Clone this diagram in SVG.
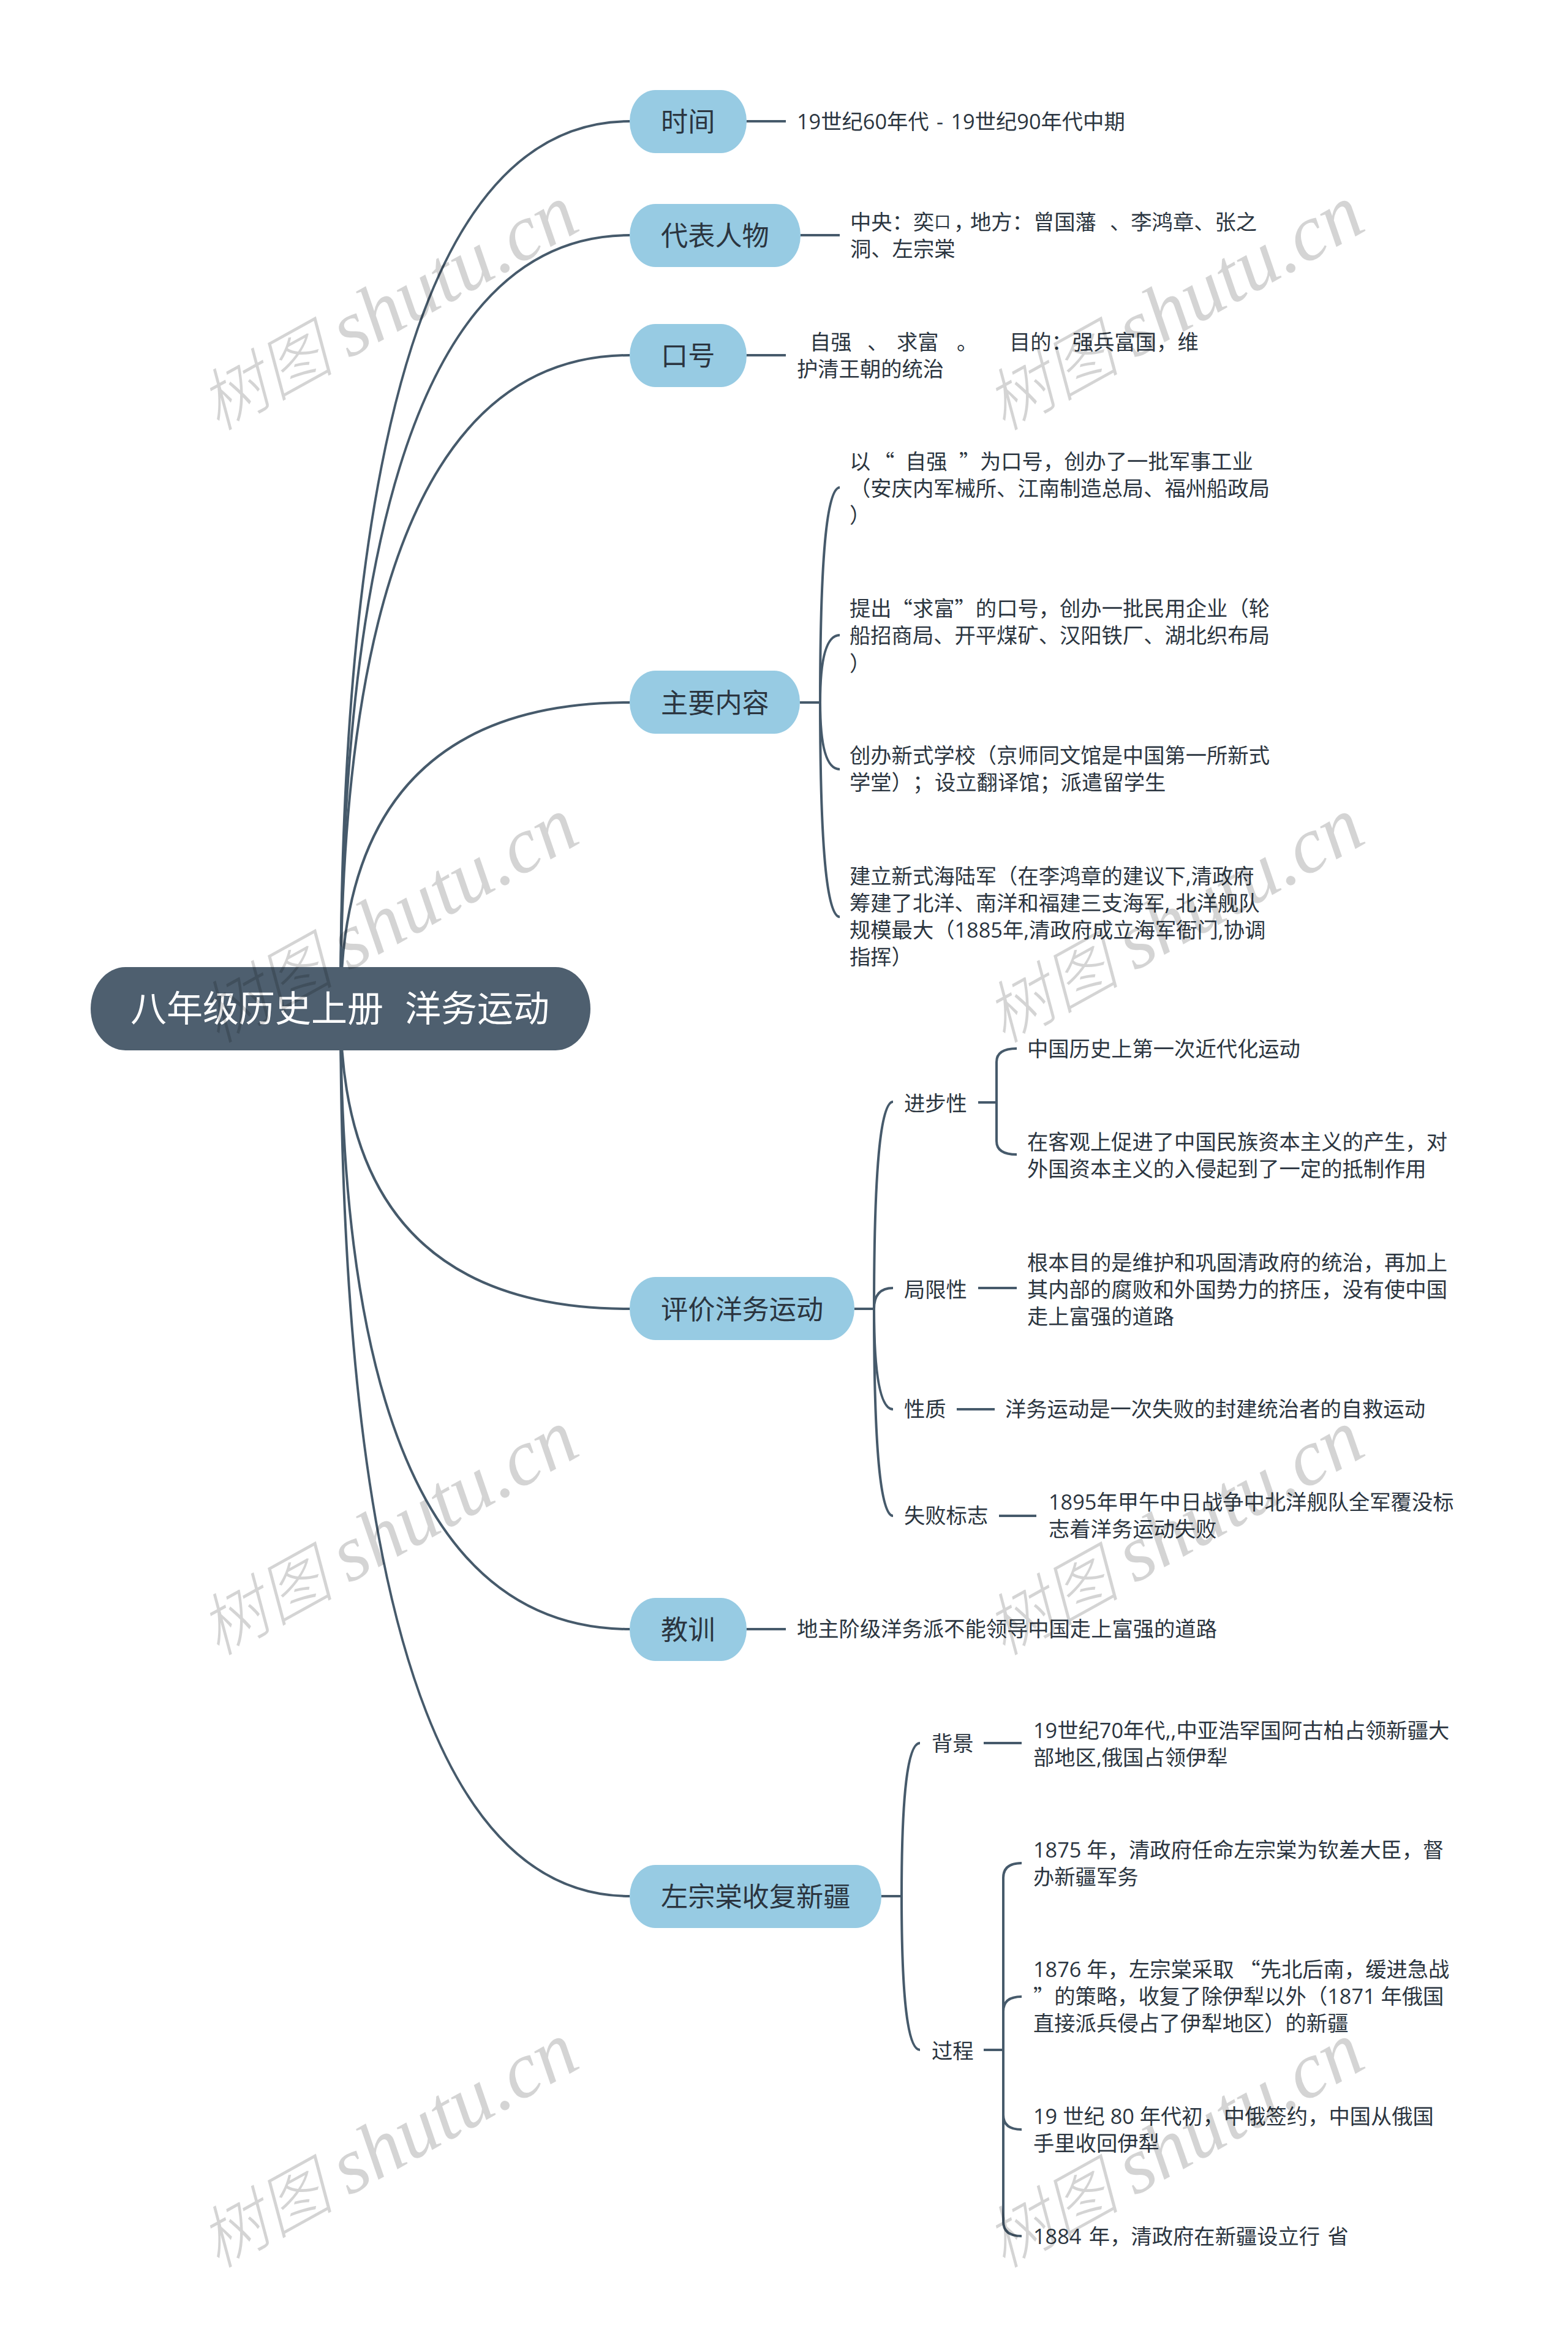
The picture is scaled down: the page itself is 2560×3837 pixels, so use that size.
<svg xmlns="http://www.w3.org/2000/svg" width="2560" height="3837" viewBox="0 0 2560 3837">
<style>
text{font-family:"Open Sans","Noto Sans CJK SC",sans-serif;dominant-baseline:central;white-space:pre}
.q{font-family:"Noto Sans CJK SC",sans-serif}
.t{font-size:34.3px;fill:#2b3540}
.b{font-size:44.2px;fill:#2b3540}
.r{font-size:59px;fill:#fff}
.ws{word-spacing:3.5px}
.nb{fill:#97cbe3}
.nr{fill:#4e5f6f}
.c{fill:none;stroke:#465a6b;stroke-width:4;stroke-linecap:butt}
.w{font-family:"Liberation Serif","Noto Sans CJK SC",serif;font-style:italic;fill:#000;fill-opacity:.17;dominant-baseline:auto}
.wc{font-family:"Noto Sans CJK SC",serif;font-size:110px;font-weight:300}
.wl{font-size:130px}
</style>
<rect width="2560" height="3837" fill="#fff"/>
<g id="connectors" class="c">
<path d="M556 1647Q556 198 1028 198"/>
<path d="M556 1647Q556 384 1028 384"/>
<path d="M556 1647Q556 580 1028 580"/>
<path d="M556 1647Q556 1147 1028 1147"/>
<path d="M556 1647Q556 2137 1028 2137"/>
<path d="M556 1647Q556 2660 1028 2660"/>
<path d="M556 1647Q556 3096 1028 3096"/>
<path d="M1219 198H1283"/>
<path d="M1307 384H1371"/>
<path d="M1219 580H1283"/>
<path d="M1219 2660H1283"/>
<path d="M1306 1147H1339"/>
<path d="M1339 1147Q1339 796 1371 796"/>
<path d="M1339 1147Q1339 1037 1371 1037"/>
<path d="M1339 1147Q1339 1256 1371 1256"/>
<path d="M1339 1147Q1339 1497 1371 1497"/>
<path d="M1395 2137H1427"/>
<path d="M1427 2137Q1427 1799 1458 1799"/>
<path d="M1427 2137Q1427 2103 1458 2103"/>
<path d="M1427 2137Q1427 2301 1458 2301"/>
<path d="M1427 2137Q1427 2475 1458 2475"/>
<path d="M1597 1800H1627"/>
<path d="M1627 1800V1734Q1627 1712 1660 1712"/>
<path d="M1627 1800V1863Q1627 1885 1660 1885"/>
<path d="M1597 2103H1660"/>
<path d="M1562 2301H1624"/>
<path d="M1631 2475H1692"/>
<path d="M1439 3096H1472"/>
<path d="M1472 3096Q1472 2846 1502 2846"/>
<path d="M1472 3096Q1472 3347 1502 3347"/>
<path d="M1606 2846H1668"/>
<path d="M1606 3347H1638"/>
<path d="M1638 3347V3066Q1638 3042 1668 3042"/>
<path d="M1638 3347V3284Q1638 3260 1668 3260"/>
<path d="M1638 3347V3453Q1638 3477 1668 3477"/>
<path d="M1638 3347V3627Q1638 3651 1668 3651"/>
</g>
<g id="root"><rect class="nr" x="148" y="1579" width="816" height="136" rx="57" ry="68"/><text class="r" x="213" y="1645">八年级历史上册</text><text class="r" x="661" y="1645">洋务运动</text></g>
<g id="n-time"><rect class="nb" x="1028" y="147" width="191" height="103" rx="42" ry="51"/><text class="b" x="1079" y="198">时间</text></g>
<g id="n-people"><rect class="nb" x="1028" y="333" width="279" height="103" rx="42" ry="51"/><text class="b" x="1079" y="384">代表人物</text></g>
<g id="n-slogan"><rect class="nb" x="1028" y="529" width="191" height="103" rx="42" ry="51"/><text class="b" x="1079" y="580">口号</text></g>
<g id="n-content"><rect class="nb" x="1028" y="1095" width="278" height="103" rx="42" ry="51"/><text class="b" x="1079" y="1147">主要内容</text></g>
<g id="n-eval"><rect class="nb" x="1028" y="2085" width="367" height="103" rx="42" ry="51"/><text class="b" x="1079" y="2137">评价洋务运动</text></g>
<g id="n-lesson"><rect class="nb" x="1028" y="2609" width="191" height="103" rx="42" ry="51"/><text class="b" x="1079" y="2660">教训</text></g>
<g id="n-zuo"><rect class="nb" x="1028" y="3045" width="411" height="103" rx="42" ry="51"/><text class="b" x="1079" y="3096">左宗棠收复新疆</text></g>
<g id="d-time"><text class="t ws" x="1301" y="197">19世纪60年代 - 19世纪90年代中期</text></g>
<g id="d-people"><text class="t" x="1388" y="361">中央：奕<tspan font-size="27">口</tspan></text><text class="t" x="1557" y="361">，</text><text class="t" x="1584" y="361">地方：曾国藩</text><text class="t" x="1812" y="361">、李鸿章、张之</text><text class="t" x="1388" y="405">洞、左宗棠</text></g>
<g id="d-slogan"><text class="t" x="1322" y="557">自强</text><text class="t" x="1416" y="557">、</text><text class="t" x="1464" y="557">求富</text><text class="t" x="1562" y="557">。</text><text class="t" x="1648" y="557">目的：强兵富国，维</text><text class="t" x="1301" y="601">护清王朝的统治</text></g>
<g id="d-content1"><text class="t" x="1387" y="752">以</text><text class="t q" x="1426" y="752">“</text><text class="t" x="1478" y="752">自强</text><text class="t q" x="1566" y="752">”</text><text class="t" x="1600" y="752">为口号，创办了一批军事工业</text><text class="t" x="1387" y="796">（安庆内军械所、江南制造总局、福州船政局</text><text class="t" x="1387" y="840">）</text></g>
<g id="d-content2"><text class="t" x="1387" y="992">提出<tspan class="q">“</tspan>求富<tspan class="q">”</tspan>的口号，创办一批民用企业（轮</text><text class="t" x="1387" y="1036">船招商局、开平煤矿、汉阳铁厂、湖北织布局</text><text class="t" x="1387" y="1082">）</text></g>
<g id="d-content3"><text class="t" x="1387" y="1232">创办新式学校（京师同文馆是中国第一所新式</text><text class="t" x="1387" y="1276">学堂）</text><text class="t" x="1490" y="1276">；</text><text class="t" x="1526" y="1276">设立翻译馆；派遣留学生</text></g>
<g id="d-content4"><text class="t" x="1387" y="1429">建立新式海陆军（在李鸿章的建议下,清政府</text><text class="t" x="1387" y="1473">筹建了北洋、南洋和福建三支海军, 北洋舰队</text><text class="t" x="1387" y="1517">规模最大（1885年,清政府成立海军衙门,协调</text><text class="t" x="1387" y="1561">指挥）</text></g>
<g id="s-progress"><text class="t" x="1476" y="1800">进步性</text></g>
<g id="d-progress1"><text class="t" x="1677" y="1711">中国历史上第一次近代化运动</text></g>
<g id="d-progress2"><text class="t" x="1677" y="1863">在客观上促进了中国民族资本主义的产生，对</text><text class="t" x="1677" y="1907">外国资本主义的入侵起到了一定的抵制作用</text></g>
<g id="s-limit"><text class="t" x="1476" y="2104">局限性</text></g>
<g id="d-limit"><text class="t" x="1677" y="2060">根本目的是维护和巩固清政府的统治，再加上</text><text class="t" x="1677" y="2104">其内部的腐败和外国势力的挤压，没有使中国</text><text class="t" x="1677" y="2148">走上富强的道路</text></g>
<g id="s-nature"><text class="t" x="1476" y="2299">性质</text></g>
<g id="d-nature"><text class="t" x="1641" y="2299">洋务运动是一次失败的封建统治者的自救运动</text></g>
<g id="s-fail"><text class="t" x="1476" y="2473">失败标志</text></g>
<g id="d-fail"><text class="t" x="1712" y="2451">1895年甲午中日战争中北洋舰队全军覆没标</text><text class="t" x="1712" y="2495">志着洋务运动失败</text></g>
<g id="d-lesson"><text class="t" x="1301" y="2658">地主阶级洋务派不能领导中国走上富强的道路</text></g>
<g id="s-bg"><text class="t" x="1521" y="2845">背景</text></g>
<g id="d-bg"><text class="t" x="1687" y="2824">19世纪70年代,,中亚浩罕国阿古柏占领新疆大</text><text class="t" x="1687" y="2868">部地区,俄国占领伊犁</text></g>
<g id="s-proc"><text class="t" x="1521" y="3347">过程</text></g>
<g id="d-proc1"><text class="t" x="1687" y="3019">1875 年，清政府任命左宗棠为钦差大臣，督</text><text class="t" x="1687" y="3063">办新疆军务</text></g>
<g id="d-proc2"><text class="t" x="1687" y="3214">1876 年，左宗棠采取 <tspan class="q">“</tspan>先北后南，缓进急战</text><text class="t" x="1687" y="3258"><tspan class="q">”</tspan>的策略，收复了除伊犁以外（1871 年俄国</text><text class="t" x="1687" y="3302">直接派兵侵占了伊犁地区）的新疆</text></g>
<g id="d-proc3"><text class="t" x="1687" y="3454">19 世纪 80 年代初，中俄签约，中国从俄国</text><text class="t" x="1687" y="3498">手里收回伊犁</text></g>
<g id="d-proc4"><text class="t ws" x="1687" y="3650">1884 年，清政府在新疆设立行 省</text></g>
<g id="watermark">
<text class="w" transform="translate(349 708) rotate(-29)"><tspan class="wc" x="7">树图</tspan><tspan class="wl" x="252">shutu.cn</tspan></text>
<text class="w" transform="translate(1632 708) rotate(-29)"><tspan class="wc" x="7">树图</tspan><tspan class="wl" x="252">shutu.cn</tspan></text>
<text class="w" transform="translate(349 1708) rotate(-29)"><tspan class="wc" x="7">树图</tspan><tspan class="wl" x="252">shutu.cn</tspan></text>
<text class="w" transform="translate(1632 1708) rotate(-29)"><tspan class="wc" x="7">树图</tspan><tspan class="wl" x="252">shutu.cn</tspan></text>
<text class="w" transform="translate(349 2708) rotate(-29)"><tspan class="wc" x="7">树图</tspan><tspan class="wl" x="252">shutu.cn</tspan></text>
<text class="w" transform="translate(1632 2708) rotate(-29)"><tspan class="wc" x="7">树图</tspan><tspan class="wl" x="252">shutu.cn</tspan></text>
<text class="w" transform="translate(349 3708) rotate(-29)"><tspan class="wc" x="7">树图</tspan><tspan class="wl" x="252">shutu.cn</tspan></text>
<text class="w" transform="translate(1632 3708) rotate(-29)"><tspan class="wc" x="7">树图</tspan><tspan class="wl" x="252">shutu.cn</tspan></text>
</g>
</svg>
